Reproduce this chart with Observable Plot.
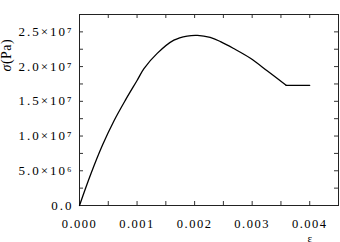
<!DOCTYPE html>
<html><head><meta charset="utf-8">
<script src="https://cdn.jsdelivr.net/npm/d3@7"></script>
<script src="https://cdn.jsdelivr.net/npm/@observablehq/plot@0.6"></script>
<style>body{margin:0;background:#fff}</style>
</head><body><div id="chart"></div>
<script>
const strain = [0, 0.0002, 0.0004, 0.0006, 0.0008, 0.001, 0.00112, 0.00135, 0.00164, 0.00187, 0.00205, 0.00227, 0.00245, 0.00268, 0.00297, 0.00326, 0.00359];
const stress = [0, 4.6e6, 8.7e6, 12.2e6, 15.2e6, 18.0e6, 19.7e6, 21.9e6, 23.8e6, 24.4e6, 24.5e6, 24.2e6, 23.6e6, 22.6e6, 21.2e6, 19.4e6, 17.3e6];
const plateauStrain = [0.00359, 0.0040];
const plateauStress = [17.3e6, 17.3e6];
const xTicks = [0, 0.001, 0.002, 0.003, 0.004];
const xTickLabels = ["0.000", "0.001", "0.002", "0.003", "0.004"];
const xMinorTicks = [0.0005, 0.001, 0.0015, 0.002, 0.0025, 0.003, 0.0035, 0.004];
const yTicks = [0, 5e6, 1e7, 1.5e7, 2e7, 2.5e7];
const yTickLabels = ["0.0", "5.0×10⁶", "1.0×10⁷", "1.5×10⁷", "2.0×10⁷", "2.5×10⁷"];
const yMinorTicks = [2.5e6, 5e6, 7.5e6, 1e7, 1.25e7, 1.5e7, 1.75e7, 2e7, 2.25e7, 2.5e7];
const xLabel = "ε";
const yLabel = "σ(Pa)";

const data = strain.map((x, i) => ({x, y: stress[i]}));
const plateau = plateauStrain.map((x, i) => ({x, y: plateauStress[i]}));
const W = 340, H = 242, mt = 14, mr = 2, mb = 37, ml = 79;
const fh = H - mt - mb, fw = W - ml - mr;
const tk = 4;

const plot = Plot.plot({
  width: W, height: H,
  marginTop: mt, marginRight: mr, marginBottom: mb, marginLeft: ml,
  style: {fontFamily: "'Liberation Serif', serif", fontSize: "12px", color: "#000", background: "#fff"},
  x: {domain: [0, 0.0045]},
  y: {domain: [0, 2.75e7]},
  marks: [
    Plot.ruleX(xMinorTicks, {insetTop: fh - tk, stroke: "#333"}),
    Plot.ruleX(xMinorTicks, {insetBottom: fh - tk, stroke: "#333"}),
    Plot.ruleY(yMinorTicks, {insetRight: fw - tk, stroke: "#333"}),
    Plot.ruleY(yMinorTicks, {insetLeft: fw - tk, stroke: "#333"}),
    Plot.frame({stroke: "#222"}),
    Plot.axisX(xTicks, {tickSize: 0, tickPadding: 14, label: null, fontSize: 12.5,
      tickFormat: d => xTickLabels[xTicks.indexOf(d)]}),
    Plot.axisY(yTicks, {tickSize: 0, tickPadding: 6, label: null, fontSize: 13,
      tickFormat: d => yTickLabels[yTicks.indexOf(d)]}),
    Plot.line(data, {x: "x", y: "y", stroke: "#000", strokeWidth: 1.3, curve: "catmull-rom"}),
    Plot.line(plateau, {x: "x", y: "y", stroke: "#000", strokeWidth: 1.3}),
    Plot.text([xLabel], {frameAnchor: "bottom-right", dx: -25, dy: 36, fontSize: 11}),
    Plot.text([yLabel], {frameAnchor: "top-left", dx: -78, dy: 57, rotate: -90, fontSize: 14})
  ]
});
d3.select(plot).selectAll("text").style("letter-spacing", "1.5px");
d3.select(plot).selectAll('g[aria-label="y-axis tick label"] text').style("letter-spacing", "2px");
d3.select(plot).selectAll("text").filter(function() { return this.textContent === yLabel; })
  .style("letter-spacing", "0.5px")
  .each(function() {
    const t = d3.select(this);
    t.text(null);
    t.append("tspan").attr("font-style", "italic").text(yLabel.slice(0, 1));
    t.append("tspan").text(yLabel.slice(1));
  });
document.getElementById("chart").append(plot);
</script>
</body></html>
